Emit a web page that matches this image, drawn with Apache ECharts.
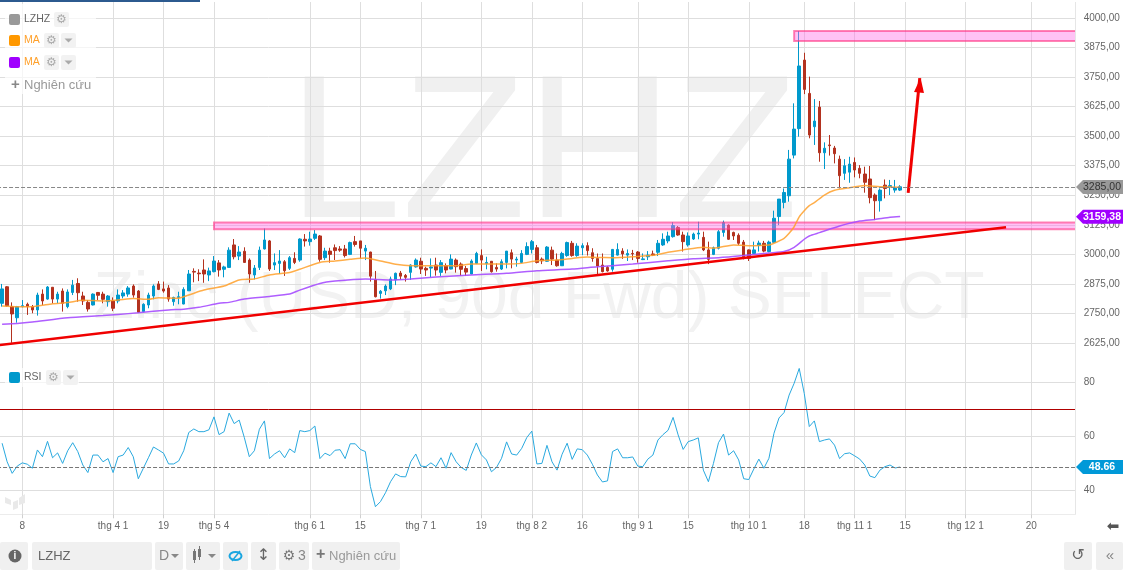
<!DOCTYPE html>
<html>
<head>
<meta charset="utf-8">
<style>
html,body{margin:0;padding:0;background:#fff;overflow:hidden;}
#main{width:1123px;height:570px;}
</style>
<script src="https://cdn.jsdelivr.net/npm/echarts@6/dist/echarts.min.js"></script>
</head>
<body>
<div id="main"></div>
<script>
// gia mo, dong, thap, cao theo tung phien
var opens = [
	2793,2863,2779,2732,2779,2789,2779,2765,2832,2811,
	2861,2811,2845,2779,2839,2877,2824,2797,2786,2839,
	2832,2800,2803,2803,2824,2832,2866,2845,2758,2786,
	2824,2875,2854,2858,2800,2818,2790,2846,2928,2921,
	2934,2913,2927,2964,2937,2945,3040,2993,3013,2976,
	2913,2945,3023,3057,2955,2962,2969,2941,2983,2976,
	3064,3054,3068,3078,2986,3014,3028,3023,3023,3000,
	3054,3057,3014,3010,2894,2835,2846,2854,2892,2921,
	2911,2924,2947,2971,2941,2942,2955,2924,2952,2938,
	2976,2959,2940,2917,2962,2995,2962,2971,2945,2938,
	2966,3007,2976,2966,3000,3021,3028,2980,2971,3018,
	2976,2952,2995,3047,2995,3028,3037,3007,2983,2955,
	2945,2937,2997,3014,2997,3004,3010,2978,2990,3002,
	3009,3040,3057,3075,3114,3082,3040,3065,3086,3072,
	3019,3000,3026,3093,3124,3093,3081,3052,3019,3004,
	3038,3047,3012,3051,3160,3220,3248,3420,3532,3822,
	3681,3540,3623,3430,3463,3450,3403,3343,3348,3389,
	3364,3340,3319,3251,3227,3293,3286,3272,3272];
var closes = [
	2854,2783,2748,2779,2783,2779,2765,2828,2803,2862,
	2811,2832,2793,2841,2870,2838,2803,2769,2832,2827,
	2810,2824,2772,2828,2837,2858,2828,2755,2789,2828,
	2866,2852,2845,2811,2818,2821,2852,2917,2925,2918,
	2917,2930,2972,2934,2947,3018,2990,3010,2966,2917,
	2942,3018,3061,2938,2965,2972,2931,2986,2966,3065,
	3057,3065,3086,2979,3014,3000,3016,3018,2995,3050,
	3042,3026,3026,2908,2821,2844,2866,2896,2920,2908,
	2903,2955,2976,2938,2934,2947,2934,2965,2934,2980,
	2948,2937,2925,2972,3004,2976,2966,2927,2938,2969,
	3014,2980,2980,3004,3033,3054,2966,2973,3031,2980,
	2952,3004,3050,2995,3035,3037,3016,2983,2951,2927,
	2930,3021,3021,3002,3004,3002,2983,2981,2997,2997,
	3047,3064,3078,3122,3082,3054,3078,3086,3090,3019,
	2979,3028,3096,3134,3064,3078,3047,2990,2983,3019,
	3048,3014,3052,3153,3234,3262,3403,3530,3797,3698,
	3505,3564,3430,3449,3460,3426,3333,3375,3382,3357,
	3343,3305,3240,3227,3272,3279,3291,3281,3286];
var lows = [
	2779,2779,2626,2711,2776,2744,2751,2741,2786,2808,
	2793,2793,2758,2772,2828,2800,2786,2758,2784,2807,
	2793,2779,2760,2793,2814,2821,2817,2752,2755,2772,
	2810,2849,2838,2800,2783,2789,2789,2845,2882,2887,
	2880,2887,2924,2906,2903,2944,2979,2976,2965,2880,
	2894,2934,3021,2930,2934,2917,2909,2934,2959,2969,
	3033,3037,3061,2969,2976,2965,2976,3011,2987,2997,
	3033,2983,2976,2885,2818,2813,2828,2849,2870,2892,
	2885,2892,2944,2917,2909,2903,2910,2909,2920,2937,
	2923,2909,2909,2916,2959,2930,2937,2923,2927,2934,
	2941,2941,2948,2965,2997,3004,2962,2959,2969,2955,
	2948,2951,2990,2990,2990,2997,2995,2969,2917,2924,
	2927,2927,2995,2981,2972,2976,2965,2976,2976,2993,
	2993,3036,3047,3071,3079,3012,3033,3061,3064,3014,
	2959,2997,3021,3075,3061,3061,3040,2979,2972,3002,
	3012,3009,3009,3048,3124,3195,3223,3406,3498,3678,
	3491,3463,3392,3361,3418,3385,3279,3315,3303,3326,
	3322,3261,3216,3145,3181,3237,3251,3261,3268];
var highs = [
	2875,2866,2797,2782,2807,2796,2786,2838,2852,2866,
	2862,2842,2856,2852,2892,2899,2842,2807,2835,2841,
	2842,2828,2818,2852,2849,2866,2873,2849,2793,2838,
	2873,2887,2885,2870,2821,2842,2861,2934,2941,2937,
	2979,2944,2993,2976,2952,3030,3065,3035,3030,2983,
	2955,3033,3110,3061,3004,3018,2976,2993,3009,3068,
	3086,3096,3103,3082,3028,3028,3042,3035,3040,3054,
	3078,3057,3040,3011,2930,2849,2873,2906,2923,2930,
	2917,2958,2983,2986,2948,2983,2986,2976,2962,3000,
	2983,2966,2951,2979,3011,3021,2990,2972,2962,2979,
	3014,3021,2990,3018,3051,3061,3040,2987,3035,3033,
	3004,3011,3054,3057,3047,3047,3051,3026,3004,3004,
	2951,3023,3047,3026,3021,3019,3014,3004,3014,3016,
	3061,3089,3096,3136,3120,3096,3093,3092,3138,3096,
	3054,3033,3103,3143,3127,3096,3089,3061,3021,3054,
	3058,3057,3058,3185,3184,3279,3442,3639,3945,3853,
	3752,3657,3649,3474,3505,3459,3418,3403,3413,3410,
	3378,3371,3374,3258,3279,3317,3315,3315,3293];

// RSI cua tung phien
var rsiValues = [
	57.5,50.6,46.3,49.0,50.2,49.7,48.2,55.0,52.5,58.2,
	52.1,53.9,50.0,54.7,57.7,54.4,49.4,46.6,53.1,53.1,
	50.6,51.8,46.6,52.5,53.1,55.9,52.5,44.3,48.2,52.1,
	56.1,55.0,53.8,49.8,49.8,50.9,54.7,61.5,62.8,61.8,
	61.8,62.5,67.3,60.7,61.8,68.7,64.8,66.1,59.7,52.5,
	54.7,62.7,65.8,51.8,53.5,54.7,52.1,55.4,54.0,62.2,
	61.8,62.2,63.9,51.8,53.8,52.9,54.9,55.1,51.8,57.3,
	57.3,55.2,54.4,41.4,33.9,35.8,39.1,43.2,46.1,45.1,
	45.0,50.6,53.5,49.0,48.8,50.2,48.8,52.1,48.2,54.0,
	50.6,48.5,47.4,53.1,57.6,53.2,51.3,46.9,48.5,51.9,
	58.0,53.5,53.1,55.6,59.6,62.0,49.8,50.0,56.7,50.6,
	47.5,53.4,57.5,51.5,55.4,55.1,53.1,49.7,45.7,43.1,
	43.5,54.4,55.4,52.1,52.1,52.4,49.0,48.8,51.6,53.1,
	58.7,60.7,62.3,67.1,60.6,55.2,58.1,58.7,59.5,47.5,
	43.2,50.0,57.7,60.9,53.1,54.7,51.3,44.3,44.0,47.9,
	51.6,48.2,51.9,61.2,66.9,68.9,75.4,79.8,85.3,76.0,
	63.7,65.8,58.1,58.7,59.1,56.8,51.8,53.6,53.9,52.8,
	51.6,49.4,45.3,44.7,47.5,48.8,49.4,48.3,48.66];

// duong MA doc tai cac phien nay
var maOrangeDays = [0,3,6,10,13,16,20,23,26,29,31,35,37,40,44,47,50,53,57,59,63,66,69,72,75,78,81,85,90,93,100,103,106,110,113,116,118,121,125,129,132,135,139,141,145,148,152,153,155,156,157,158,159,160,161,163,165,168,171,174,178];
var maOrangeValues = [2782,2779,2779,2791,2796,2806,2803,2807,2813,2810,2817,2815,2828,2849,2866,2892,2896,2913,2923,2937,2966,2972,2979,2985,2972,2958,2952,2952,2952,2959,2959,2962,2973,2976,2983,2989,2987,2986,2990,2996,3009,3019,3030,3026,3040,3037,3040,3047,3068,3089,3117,3159,3185,3206,3219,3251,3271,3282,3291,3286,3284];
var maPurpleDays = [0,3,6,13,20,23,27,33,36,39,43,45,48,53,57,59,63,66,72,77,81,86,93,100,106,113,118,125,132,137,142,147,152,155,157,159,160,162,166,170,173,176,178];
var maPurpleValues = [2705,2708,2714,2732,2741,2746,2753,2765,2768,2776,2793,2797,2811,2822,2832,2849,2877,2887,2896,2892,2896,2904,2913,2920,2931,2938,2948,2959,2973,2982,2986,2995,3006,3012,3030,3064,3078,3092,3120,3141,3148,3157,3160];

// nhan truc
var priceTicks = [2625,2750,2875,3000,3125,3250,3375,3500,3625,3750,3875,4000];
var rsiTicks = [40,60,80];
var dateTickIndex = [5,23,33,43,62,72,84,96,106,116,127,137,149,160,170,180,192,205];
var dateTickLabels = ['8','thg 4 1','19','thg 5 4','thg 6 1','15','thg 7 1','19','thg 8 2','16','thg 9 1','15','thg 10 1','18','thg 11 1','15','thg 12 1','20'];
var slotCount = 215;

// do thi ve tay: duong xu huong, mui ten, hai vung khang cu
var trendDays = [0,200];
var trendValues = [2615,3115];
var arrowDays = [180.6,182.9];
var arrowValues = [3260,3746];
var upperZone = [158,3903,3945];
var lowerZone = [43,3106,3135];
var lastPrice = 3285;
var lastMa = 3159.38;
var lastRsi = 48.66;

var FONT = '"Liberation Sans", Arial, sans-serif';

var categories = [];
for(var i=0;i<slotCount;i++){
	categories.push('');
}
for(var i=0;i<dateTickIndex.length;i++){
	categories[dateTickIndex[i]] = dateTickLabels[i];
}
function hasLabel(index,value){
	return value !== '';
}

// o dau tien de trong de truc bat dau ngoai mep trai
var candleData = [['-','-','-','-']];
for(var i=0;i<opens.length;i++){
	candleData.push([opens[i],closes[i],lows[i],highs[i]]);
}
var rsiData = ['-'].concat(rsiValues);
function toPairs(days,values,shift){
	var list = [];
	for(var i=0;i<days.length;i++){
		list.push([days[i]+shift,values[i]]);
	}
	return list;
}
function comma(v){
	return v.toFixed(2).replace('.',',');
}

function dateAxis(grid,labels){
	return {
		type:'category',
		gridIndex:grid,
		data:categories,
		boundaryGap:false,
		axisLine:{show:labels,lineStyle:{color:'#ececec'}},
		axisTick:{show:labels,length:4,interval:hasLabel,lineStyle:{color:'#cfcfcf'}},
		axisLabel:{show:labels,interval:hasLabel,margin:7,fontSize:10,fontFamily:FONT,color:'#666'},
		splitLine:{show:true,interval:hasLabel,lineStyle:{color:'#dedede'}}
	};
}

var option = {
	animation:false,
	backgroundColor:'#fff',
	grid:[
		{left:-2.95,top:2,width:1079.63,height:360,outerBoundsMode:'none'},
		{left:-2.95,top:361,width:1079.63,height:153.3,outerBoundsMode:'none'}
	],
	xAxis:[
		dateAxis(0,false),
		dateAxis(1,true),
		//truc an cho duong ve tay
		{type:'value',gridIndex:0,min:0,max:214,show:false}
	],
	yAxis:[
		{
			type:'value',gridIndex:0,position:'right',min:2544.8,max:4067.7,
			axisLine:{show:false},
			axisTick:{show:true,length:0,customValues:priceTicks},
			axisLabel:{customValues:priceTicks,margin:7,fontSize:10,fontFamily:FONT,color:'#666',formatter:comma},
			splitLine:{show:true,lineStyle:{color:'#dedede'}}
		},
		{
			type:'value',gridIndex:1,position:'right',min:31.08,max:88.07,
			axisLine:{show:false},
			axisTick:{show:true,length:0,customValues:rsiTicks},
			axisLabel:{customValues:rsiTicks,margin:7,fontSize:10,fontFamily:FONT,color:'#666'},
			splitLine:{show:true,lineStyle:{color:'#dedede'}}
		}
	],
	series:[
		{
			name:'LZHZ',
			type:'candlestick',
			xAxisIndex:0,yAxisIndex:0,
			data:candleData,
			barWidth:3,
			itemStyle:{color:'#0099cc',color0:'#b3321f',borderColor:'#0099cc',borderColor0:'#b3321f',borderWidth:1},
			markLine:{
				silent:true,symbol:'none',
				label:{show:false},
				lineStyle:{color:'#888',type:'dashed',width:1},
				data:[{yAxis:lastPrice}]
			},
			markArea:{
				silent:true,z:3,
				itemStyle:{color:'rgba(255,110,230,0.42)',borderColor:'rgba(255,50,130,0.6)',borderWidth:2},
				data:[
					[{xAxis:upperZone[0],yAxis:upperZone[2]},{xAxis:slotCount-1,yAxis:upperZone[1]}],
					[{xAxis:lowerZone[0],yAxis:lowerZone[2]},{xAxis:slotCount-1,yAxis:lowerZone[1]}]
				]
			}
		},
		{
			name:'MA',type:'line',xAxisIndex:0,yAxisIndex:0,
			data:toPairs(maOrangeDays,maOrangeValues,1),
			showSymbol:false,smooth:0.2,
			lineStyle:{color:'#ffa02a',width:1.5,opacity:0.85}
		},
		{
			name:'MA',type:'line',xAxisIndex:0,yAxisIndex:0,
			data:toPairs(maPurpleDays,maPurpleValues,1),
			showSymbol:false,smooth:0.2,
			lineStyle:{color:'#a64dff',width:1.5,opacity:0.9}
		},
		{
			name:'trend',type:'line',xAxisIndex:2,yAxisIndex:0,
			data:toPairs(trendDays,trendValues,0),
			showSymbol:false,
			lineStyle:{color:'#f00000',width:2.5}
		},
		{
			name:'arrow',type:'line',xAxisIndex:2,yAxisIndex:0,
			data:toPairs(arrowDays,arrowValues,0),
			showSymbol:false,
			lineStyle:{color:'#f00000',width:3}
		},
		{
			name:'arrowHead',type:'scatter',xAxisIndex:2,yAxisIndex:0,
			data:[[arrowDays[1],arrowValues[1]-30]],
			symbol:'triangle',symbolSize:[10,15],symbolRotate:-6,
			itemStyle:{color:'#f00000',opacity:1}
		},
		{
			name:'RSI',type:'line',xAxisIndex:1,yAxisIndex:1,
			data:rsiData,
			showSymbol:false,
			lineStyle:{color:'#29a9df',width:1},
			markLine:{
				silent:true,symbol:'none',
				label:{show:false},
				data:[
					{yAxis:70,lineStyle:{color:'#b00000',type:'solid',width:1}},
					{yAxis:lastRsi,lineStyle:{color:'#777',type:'dashed',width:1}}
				]
			}
		}
	]
};

var chart = echarts.init(document.getElementById('main'));
chart.setOption(option);

// phan giao dien: nut bam, chu, nhan gia
function box(x,y,w,h,fill,z){
	return {type:'rect',z:z||10,silent:true,shape:{x:x,y:y,width:w,height:h,r:2},style:{fill:fill}};
}
function txt(x,y,s,size,color,extra){
	var st = {text:s,x:x,y:y,fontSize:size,fontFamily:FONT,fill:color,verticalAlign:'middle',align:'left'};
	for(var k in extra){
		st[k] = extra[k];
	}
	return {type:'text',z:11,silent:true,style:st};
}
function caret(cx,cy,color){
	return {type:'polygon',z:11,silent:true,shape:{points:[[cx-4,cy-2],[cx+4,cy-2],[cx,cy+2]]},style:{fill:color}};
}
function gear(cx,cy,size,color){
	return txt(cx,cy,'\u2699',size,color,{align:'center',fontFamily:'"DejaVu Sans"'});
}
function legendRow(y,color,name,nameColor,gearX){
	var list = [];
	list.push(box(9,y-5.5,11,11,color));
	list.push(txt(24,y,name,10.5,nameColor));
	list.push(box(gearX,y-7.5,15,15,'#f2f2f2'));
	list.push(gear(gearX+7.5,y,12,'#aaa'));
	return list;
}
function priceTag(y,fill,s,color,bold){
	return [
		{type:'polygon',z:12,silent:true,shape:{points:[[1076,y],[1083,y-7],[1123,y-7],[1123,y+7],[1083,y+7]]},style:{fill:fill}},
		{type:'text',z:13,silent:true,style:{text:s,x:1102,y:y,fontSize:10.5,fontWeight:bold?'bold':'normal',fontFamily:FONT,fill:color,align:'center',verticalAlign:'middle'}}
	];
}

var els = [];
// chu mo nen
els.push({type:'text',z:-1,silent:true,style:{text:'LZHZ',x:543,y:161,fontSize:204,fontFamily:FONT,fill:'#f0f0f0',align:'center',verticalAlign:'middle'}});
els.push({type:'text',z:-1,silent:true,style:{text:'Zinc (USD, 90d Fwd) SELECT',x:539,y:300,fontSize:66,fontFamily:FONT,fill:'#f2f2f2',align:'center',verticalAlign:'middle'}});
els.push({type:'rect',z:9,silent:true,shape:{x:0,y:0,width:200,height:2},style:{fill:'#2c5a8f'}});

// mep phai vung ve
els.push({type:'rect',z:8,silent:true,shape:{x:1076,y:0,width:5,height:520},style:{fill:'#fff'}});
els.push({type:'line',z:8,silent:true,shape:{x1:1075.5,y1:2,x2:1075.5,y2:514},style:{stroke:'#e6e6e6'}});

// chu giai goc tren
els.push(box(5,4,91,90,'rgba(255,255,255,0.7)',9));
els = els.concat(legendRow(19.5,'#999999','LZHZ','#666',54));
els = els.concat(legendRow(40.5,'#ff9800','MA','#ffa02a',44));
els.push(box(61,33,15,15,'#f2f2f2'));
els.push(caret(68.5,40.5,'#aaa'));
els = els.concat(legendRow(62.5,'#a000ff','MA','#ffa02a',44));
els.push(box(61,55,15,15,'#f2f2f2'));
els.push(caret(68.5,62.5,'#aaa'));
els.push(txt(11,85,'+',15,'#888',{fontWeight:'bold'}));
els.push(txt(24,85.5,'Nghi\u00ean c\u1ee9u',13,'#999'));

// chu giai RSI
els.push(box(5,368,74,19,'rgba(255,255,255,0.7)',9));
els = els.concat(legendRow(377.5,'#0099cc','RSI','#666',46));
els.push(box(63,370,15,15,'#f2f2f2'));
els.push(caret(70.5,377.5,'#aaa'));

// logo mo goc duoi
els.push({type:'polygon',z:9,silent:true,shape:{points:[[5,497],[11,500],[11,505],[5,503]]},style:{fill:'#e9e9e9'}});
els.push({type:'polygon',z:9,silent:true,shape:{points:[[13,502],[18,500],[18,508],[13,510]]},style:{fill:'#e9e9e9'}});
els.push({type:'polygon',z:9,silent:true,shape:{points:[[19,498],[25,494],[25,503],[19,505]]},style:{fill:'#e9e9e9'}});

// thanh cong cu duoi
els.push(box(0,542,28,28,'#f0f0f0'));
els.push({type:'circle',z:11,silent:true,shape:{cx:15,cy:556,r:6.5},style:{fill:'#666'}});
els.push(txt(15,556,'i',10,'#fff',{align:'center',fontWeight:'bold'}));
els.push(box(32,542,120,28,'#f0f0f0'));
els.push(txt(38,556,'LZHZ',13,'#666'));
els.push(box(155,542,28,28,'#f0f0f0'));
els.push(txt(159,556,'D',14,'#888'));
els.push(caret(175,556,'#888'));
els.push(box(186,542,34,28,'#f0f0f0'));
els.push({type:'rect',z:11,silent:true,shape:{x:193,y:551,width:3,height:9},style:{fill:'#777'}});
els.push({type:'rect',z:11,silent:true,shape:{x:198,y:549,width:3,height:8},style:{fill:'#777'}});
els.push({type:'line',z:11,silent:true,shape:{x1:194.5,y1:549,x2:194.5,y2:563},style:{stroke:'#777'}});
els.push({type:'line',z:11,silent:true,shape:{x1:199.5,y1:546,x2:199.5,y2:560},style:{stroke:'#777'}});
els.push(caret(212,556,'#888'));
els.push(box(223,542,25,28,'#f0f0f0'));
els.push({type:'ellipse',z:11,silent:true,shape:{cx:235.5,cy:556,rx:6,ry:4},style:{fill:'none',stroke:'#1ba6e0',lineWidth:2}});
els.push({type:'line',z:11,silent:true,shape:{x1:232,y1:561,x2:240,y2:551},style:{stroke:'#1ba6e0',lineWidth:1.5}});
els.push(box(251,542,25,28,'#f0f0f0'));
els.push(txt(263.5,556,'\u2195',16,'#666',{align:'center',fontFamily:'"DejaVu Sans"'}));
els.push(box(279,542,30,28,'#f0f0f0'));
els.push(gear(289,556,14,'#777'));
els.push(txt(298,556,'3',14,'#888'));
els.push(box(312,542,88,28,'#f0f0f0'));
els.push(txt(316,555,'+',16,'#777',{fontWeight:'bold'}));
els.push(txt(329,556,'Nghi\u00ean c\u1ee9u',13,'#999'));
els.push(txt(1113,527,'\u2b05',15,'#555',{align:'center',fontFamily:'"DejaVu Sans"'}));
els.push(box(1064,542,28,28,'#f0f0f0'));
els.push(txt(1078,556,'\u21ba',16,'#666',{align:'center',fontFamily:'"DejaVu Sans"'}));
els.push(box(1096,542,27,28,'#f0f0f0'));
els.push(txt(1110,556,'\u00ab',15,'#888',{align:'center'}));

// nhan gia lay vi tri tu chinh truc y
els = els.concat(priceTag(chart.convertToPixel({yAxisIndex:0},lastPrice),'#999','3285,00','#333',false));
els = els.concat(priceTag(chart.convertToPixel({yAxisIndex:0},lastMa),'#a000ff','3159,38','#fff',true));
els = els.concat(priceTag(chart.convertToPixel({yAxisIndex:1},lastRsi),'#0099d8','48.66','#fff',true));

chart.setOption({graphic:{elements:els}});
</script>
</body>
</html>
